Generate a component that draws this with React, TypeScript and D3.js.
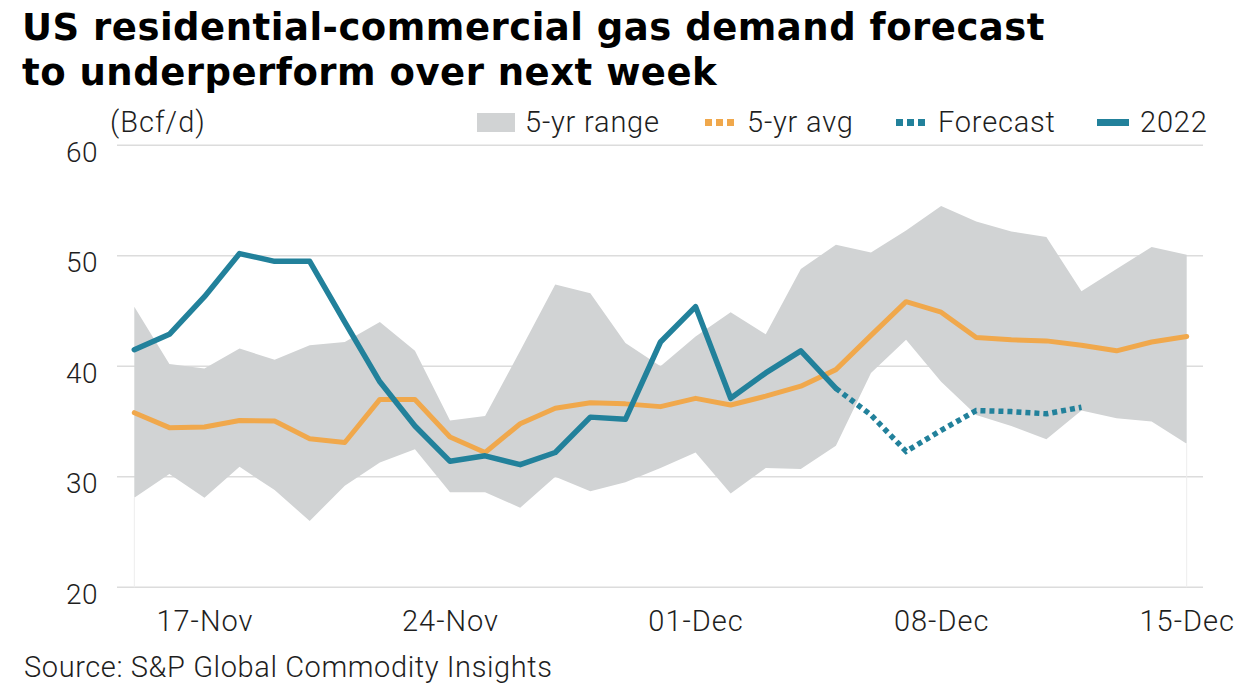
import React, { useEffect, useRef } from 'react';
import * as d3 from 'd3';

const dates: string[] = [
  '2022-11-15', '2022-11-16', '2022-11-17', '2022-11-18', '2022-11-19', '2022-11-20', '2022-11-21',
  '2022-11-22', '2022-11-23', '2022-11-24', '2022-11-25', '2022-11-26', '2022-11-27', '2022-11-28',
  '2022-11-29', '2022-11-30', '2022-12-01', '2022-12-02', '2022-12-03', '2022-12-04', '2022-12-05',
  '2022-12-06', '2022-12-07', '2022-12-08', '2022-12-09', '2022-12-10', '2022-12-11', '2022-12-12',
  '2022-12-13', '2022-12-14', '2022-12-15',
];

const rangeMin: number[] = [28.1, 30.25, 28.1, 30.9, 28.8, 26.0, 29.2, 31.3, 32.5, 28.6, 28.6, 27.2, 30.0, 28.7, 29.5, 30.8, 32.2, 28.5, 30.8, 30.7, 32.8, 39.4, 42.4, 38.6, 35.6, 34.6, 33.4, 36.0, 35.3, 35.0, 33.0];
const rangeMax: number[] = [45.4, 40.2, 39.8, 41.6, 40.6, 41.9, 42.2, 44.0, 41.4, 35.1, 35.5, 41.4, 47.4, 46.6, 42.1, 40.0, 42.7, 44.9, 42.9, 48.8, 51.0, 50.3, 52.3, 54.5, 53.1, 52.2, 51.7, 46.8, 48.8, 50.8, 50.1];
const avg5: number[] = [35.8, 34.45, 34.5, 35.1, 35.05, 33.45, 33.1, 37.0, 37.0, 33.6, 32.2, 34.8, 36.2, 36.7, 36.6, 36.35, 37.1, 36.5, 37.3, 38.2, 39.7, 42.8, 45.85, 44.9, 42.6, 42.4, 42.3, 41.9, 41.4, 42.2, 42.7];
const actual2022: (number | null)[] = [41.5, 42.9, 46.3, 50.2, 49.5, 49.5, 44.0, 38.6, 34.6, 31.4, 31.9, 31.1, 32.2, 35.4, 35.2, 42.2, 45.4, 37.1, 39.4, 41.4, 38.0, null, null, null, null, null, null, null, null, null, null];
const forecast: (number | null)[] = [null, null, null, null, null, null, null, null, null, null, null, null, null, null, null, null, null, null, null, null, 38.0, 35.6, 32.3, 34.2, 36.0, 35.9, 35.7, 36.3, null, null, null];

const xTickDates: string[] = ['2022-11-17', '2022-11-24', '2022-12-01', '2022-12-08', '2022-12-15'];
const xTickLabels: string[] = ['17-Nov', '24-Nov', '01-Dec', '08-Dec', '15-Dec'];
const yTicks: number[] = [20, 30, 40, 50, 60];

const legendLabels: string[] = ['5-yr range', '5-yr avg', 'Forecast', '2022'];

const titleLines: string[] = ['US residential-commercial gas demand forecast', 'to underperform over next week'];
const unitLabel = '(Bcf/d)';
const sourceText = 'Source: S&P Global Commodity Insights';

const BLUE = '#22819b';
const ORANGE = '#f0a84c';
const GRAY = '#d1d3d4';
const GRID = '#dcdcdc';
const TEXT = '#1e1e1e';
const LIGHT_FONT = 'Roboto, "Noto Sans", sans-serif';

export default function App() {
  const ref = useRef<SVGSVGElement | null>(null);

  useEffect(() => {
    const svg = d3.select(ref.current);
    svg.selectAll('*').remove();

    const parse = (s: string) => new Date(s + 'T00:00:00Z');
    const x = d3.scaleUtc().domain([parse(dates[0]), parse(dates[dates.length - 1])]).range([134.3, 1186.7]);
    const y = d3.scaleLinear().domain([20, 60]).range([587.3, 145.3]);

    const gridX0 = 117;
    const gridX1 = 1203;

    // Title
    svg.append('g').selectAll('text').data(titleLines).join('text')
      .attr('x', 22)
      .attr('y', (_d, i) => (i === 0 ? 39.5 : 85))
      .attr('font-family', '"DejaVu Sans", sans-serif')
      .attr('font-weight', 'bold')
      .attr('font-size', 37)
      .attr('letter-spacing', 0.5)
      .attr('fill', '#000')
      .text((d) => d);

    // Gridlines
    svg.append('g').selectAll('line').data(yTicks).join('line')
      .attr('x1', gridX0).attr('x2', gridX1)
      .attr('y1', (d) => y(d)).attr('y2', (d) => y(d))
      .attr('stroke', GRID).attr('stroke-width', 1.5);

    // Y axis labels via d3 axis
    const yAxis = d3.axisLeft(y).tickValues(yTicks).tickSize(0).tickFormat(d3.format('d'));
    const yg = svg.append('g').attr('transform', 'translate(98,0)').call(yAxis);
    yg.select('.domain').remove();
    yg.selectAll('text')
      .attr('x', 0).attr('dy', 16)
      .attr('font-family', LIGHT_FONT).attr('font-weight', 300)
      .attr('font-size', 28).attr('letter-spacing', 0.5)
      .attr('fill', TEXT).attr('text-anchor', 'end');

    // X axis labels via d3 axis
    const xAxis = d3.axisBottom(x)
      .tickValues(xTickDates.map(parse))
      .tickSize(0)
      .tickFormat((_d, i) => xTickLabels[i]);
    const xg = svg.append('g').attr('transform', 'translate(0,587.3)').call(xAxis);
    xg.select('.domain').remove();
    xg.selectAll('text')
      .attr('y', 43.5).attr('dy', 0)
      .attr('font-family', LIGHT_FONT).attr('font-weight', 300)
      .attr('font-size', 29).attr('letter-spacing', 1).attr('fill', TEXT);

    // Range area
    const idx = d3.range(dates.length);
    const area = d3.area<number>()
      .x((i) => x(parse(dates[i])))
      .y0((i) => y(rangeMin[i]))
      .y1((i) => y(rangeMax[i]));
    svg.append('path').datum(idx).attr('d', area).attr('fill', GRAY);

    // faint edges below the area
    [0, dates.length - 1].forEach((i) => {
      svg.append('line')
        .attr('x1', x(parse(dates[i]))).attr('x2', x(parse(dates[i])))
        .attr('y1', y(rangeMin[i])).attr('y2', y(20))
        .attr('stroke', '#ededed').attr('stroke-width', 1);
    });

    const line = (vals: (number | null)[]) => d3.line<number>()
      .defined((i) => vals[i] != null)
      .x((i) => x(parse(dates[i])))
      .y((i) => y(vals[i] as number));

    svg.append('path').datum(idx).attr('d', line(avg5))
      .attr('fill', 'none').attr('stroke', ORANGE).attr('stroke-width', 5)
      .attr('stroke-linejoin', 'round').attr('stroke-linecap', 'round');

    svg.append('path').datum(idx).attr('d', line(forecast))
      .attr('fill', 'none').attr('stroke', BLUE).attr('stroke-width', 5.5)
      .attr('stroke-dasharray', '5 4');

    svg.append('path').datum(idx).attr('d', line(actual2022))
      .attr('fill', 'none').attr('stroke', BLUE).attr('stroke-width', 5.5)
      .attr('stroke-linejoin', 'round').attr('stroke-linecap', 'round');

    // unit label
    svg.append('text').attr('x', 110).attr('y', 132)
      .attr('font-family', LIGHT_FONT).attr('font-weight', 300)
      .attr('font-size', 29).attr('letter-spacing', 1).attr('fill', TEXT).text(unitLabel);

    // Legend
    const lg = svg.append('g');
    lg.append('rect').attr('x', 477).attr('y', 113).attr('width', 38).attr('height', 19).attr('fill', GRAY);
    lg.append('line').attr('x1', 705).attr('x2', 734).attr('y1', 122.5).attr('y2', 122.5)
      .attr('stroke', ORANGE).attr('stroke-width', 7).attr('stroke-dasharray', '7 4');
    lg.append('line').attr('x1', 896).attr('x2', 925).attr('y1', 122.5).attr('y2', 122.5)
      .attr('stroke', BLUE).attr('stroke-width', 7).attr('stroke-dasharray', '7 4');
    lg.append('line').attr('x1', 1097).attr('x2', 1129).attr('y1', 122.5).attr('y2', 122.5)
      .attr('stroke', BLUE).attr('stroke-width', 7);
    const legendX = [525, 747, 938, 1140];
    lg.selectAll('text.lt').data(legendLabels).join('text')
      .attr('class', 'lt')
      .attr('x', (_d, i) => legendX[i]).attr('y', 132)
      .attr('font-family', LIGHT_FONT).attr('font-weight', 300)
      .attr('font-size', 29).attr('letter-spacing', 0.8).attr('fill', TEXT)
      .text((d) => d);

    // Source
    svg.append('text').attr('x', 24).attr('y', 677)
      .attr('font-family', LIGHT_FONT).attr('font-weight', 300)
      .attr('font-size', 29).attr('letter-spacing', 0.6).attr('fill', TEXT).text(sourceText);
  }, []);

  return (
    <svg
      ref={ref}
      width={1242}
      height={700}
      style={{ position: 'absolute', left: 0, top: 0, background: '#fff' }}
    />
  );
}
